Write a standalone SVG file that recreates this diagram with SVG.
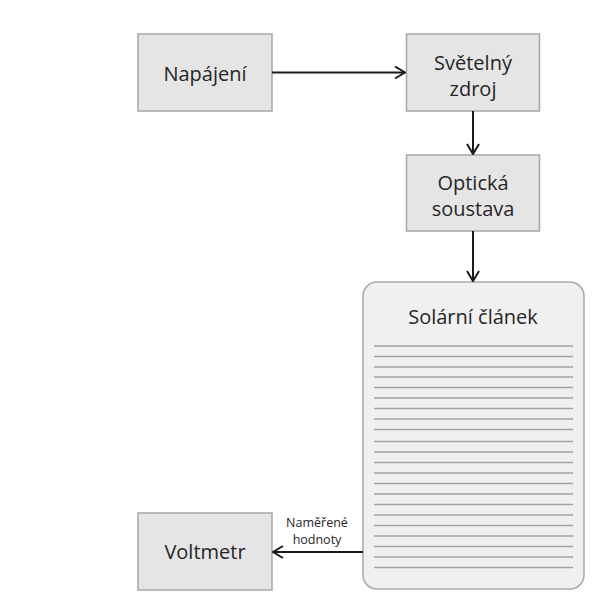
<svg xmlns="http://www.w3.org/2000/svg" width="601" height="609" viewBox="0 0 601 609">
<style>
.box{fill:#e5e5e5;stroke:#a6a6a6;stroke-width:1.5}
.cell{fill:#f0f0f0;stroke:#a9a9a9;stroke-width:1.5}
.t{font-family:"Open Sans","Noto Sans","Liberation Sans",sans-serif;font-size:20px;fill:#262626;text-anchor:middle}
.s{font-family:"Open Sans","Noto Sans","Liberation Sans",sans-serif;font-size:12.5px;fill:#262626;text-anchor:middle}
.c{fill:none;stroke:#1a1a1a;stroke-width:2}
.ln{stroke:#a3a3a3;stroke-width:1.5}
</style>
<defs>
<marker id="arr" viewBox="0 0 12 14" refX="11" refY="7" markerWidth="12" markerHeight="14" markerUnits="userSpaceOnUse" orient="auto">
<path d="M1,1 L11,7 L1,13" fill="none" stroke="#1a1a1a" stroke-width="2"/>
</marker>
</defs>
<rect width="601" height="609" fill="#ffffff"/>
<g id="napajeni">
<rect class="box" x="138" y="34" width="134" height="77"/>
<text class="t" x="205" y="81">Napájení</text>
</g>
<g id="svetelny-zdroj">
<rect class="box" x="406.5" y="34" width="133" height="77"/>
<text class="t" x="473" y="70">Světelný</text>
<text class="t" x="473" y="96">zdroj</text>
</g>
<g id="opticka-soustava">
<rect class="box" x="406.5" y="155" width="133" height="76"/>
<text class="t" x="473" y="190">Optická</text>
<text class="t" x="473" y="216">soustava</text>
</g>
<g id="solarni-clanek">
<rect class="cell" x="363" y="282" width="221" height="307" rx="14" ry="14"/>
<text class="t" x="473" y="324">Solární článek</text>
<g class="ln">
<line x1="374" y1="346" x2="573" y2="346"/>
<line x1="374" y1="356.5" x2="573" y2="356.5"/>
<line x1="374" y1="367" x2="573" y2="367"/>
<line x1="374" y1="377" x2="573" y2="377"/>
<line x1="374" y1="387.5" x2="573" y2="387.5"/>
<line x1="374" y1="398" x2="573" y2="398"/>
<line x1="374" y1="408.5" x2="573" y2="408.5"/>
<line x1="374" y1="419" x2="573" y2="419"/>
<line x1="374" y1="429.5" x2="573" y2="429.5"/>
<line x1="374" y1="441.5" x2="573" y2="441.5"/>
<line x1="374" y1="452" x2="573" y2="452"/>
<line x1="374" y1="462.5" x2="573" y2="462.5"/>
<line x1="374" y1="473" x2="573" y2="473"/>
<line x1="374" y1="483.5" x2="573" y2="483.5"/>
<line x1="374" y1="494" x2="573" y2="494"/>
<line x1="374" y1="504.5" x2="573" y2="504.5"/>
<line x1="374" y1="515" x2="573" y2="515"/>
<line x1="374" y1="525.5" x2="573" y2="525.5"/>
<line x1="374" y1="536" x2="573" y2="536"/>
<line x1="374" y1="546.5" x2="573" y2="546.5"/>
<line x1="374" y1="557" x2="573" y2="557"/>
<line x1="374" y1="567.5" x2="573" y2="567.5"/>
</g>
</g>
<g id="voltmetr">
<rect class="box" x="138" y="513" width="134" height="77"/>
<text class="t" x="205" y="559">Voltmetr</text>
</g>
<g id="connectors">
<line class="c" x1="272" y1="72.5" x2="405" y2="72.5" marker-end="url(#arr)"/>
<line class="c" x1="473" y1="111" x2="473" y2="154" marker-end="url(#arr)"/>
<line class="c" x1="473" y1="231" x2="473" y2="281" marker-end="url(#arr)"/>
<line class="c" x1="363" y1="552" x2="273" y2="552" marker-end="url(#arr)"/>
<text class="s" x="317" y="527">Naměřené</text>
<text class="s" x="317" y="544">hodnoty</text>
</g>
</svg>
